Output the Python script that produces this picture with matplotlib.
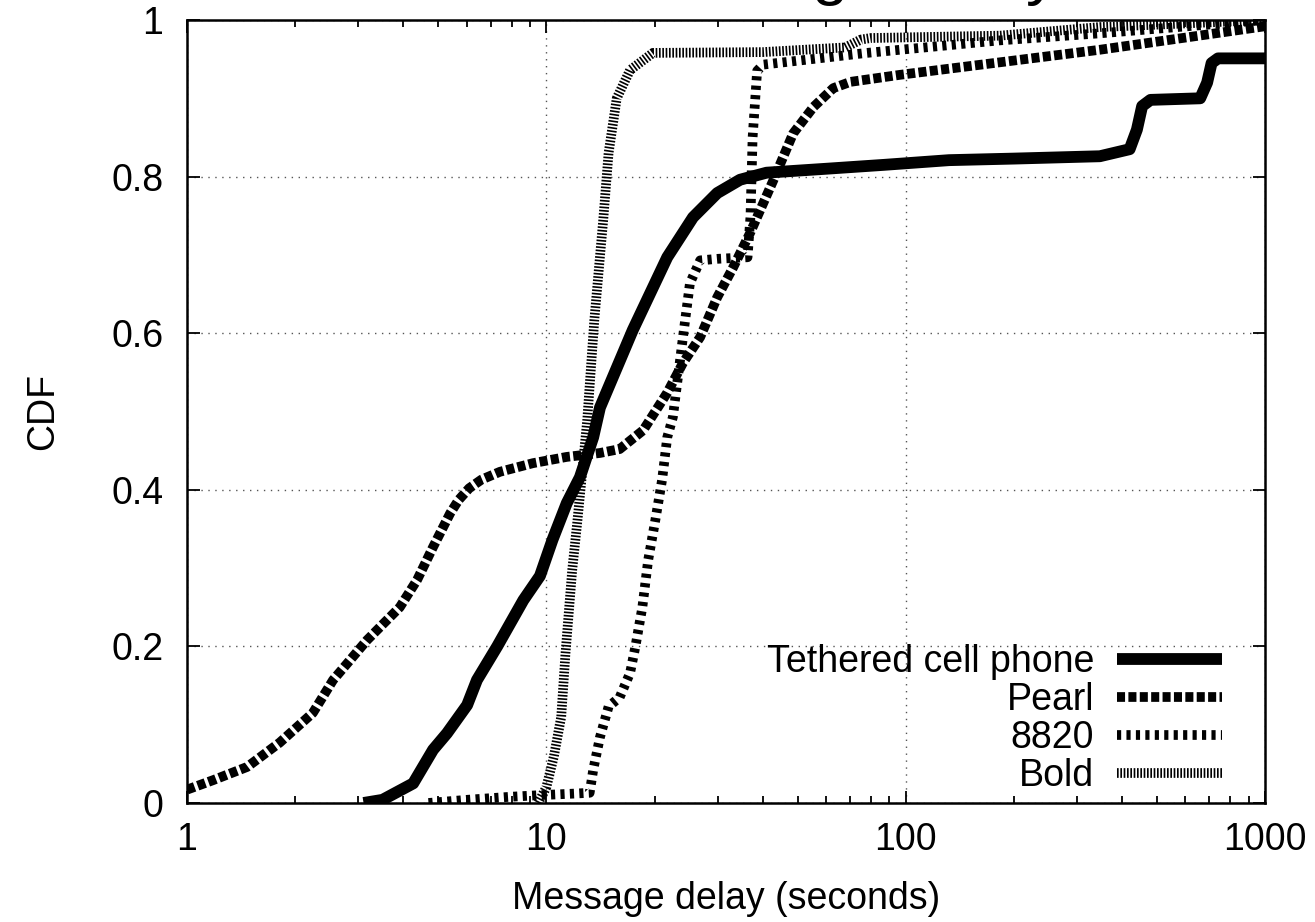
import matplotlib
matplotlib.use('Agg')
import matplotlib.pyplot as plt
from matplotlib.ticker import FuncFormatter, NullLocator, LogLocator

plt.rcParams['font.family'] = ['Liberation Sans', 'DejaVu Sans']
plt.rcParams['lines.scale_dashes'] = False

# Data
tethered_x = [3.1, 3.5, 4.26, 4.84, 5.29, 6.02, 6.41, 7.3, 8.63, 9.6, 10.4, 11.4, 12.4, 13.5, 14.1,
              17.4, 21.7, 25.6, 29.9, 34.6, 41, 60, 87, 132, 200, 347, 420, 440, 455, 480,
              660, 690, 710, 740, 1000]
tethered_y = [0, 0.004, 0.025, 0.068, 0.089, 0.125, 0.157, 0.2, 0.259, 0.29, 0.336, 0.383, 0.416, 0.467, 0.505,
              0.604, 0.697, 0.748, 0.779, 0.796, 0.805, 0.81, 0.815, 0.821, 0.823, 0.826, 0.835, 0.86, 0.89, 0.898,
              0.90, 0.92, 0.945, 0.951, 0.951]

pearl_x = [1.0, 1.18, 1.47, 1.81, 2.24, 2.55, 3.17, 3.91, 4.37, 4.84, 5.40, 5.7, 6.1, 6.6, 7.43, 9.18, 11.4, 14.1,
           16.0, 18.6, 21.7, 24.0, 26.8, 29.9, 33.1, 36.9, 42.8, 48.6, 55.4, 62.9, 70.2, 96.5, 183, 347, 1000]
pearl_y = [0.017, 0.029, 0.046, 0.077, 0.115, 0.157, 0.208, 0.25, 0.285, 0.327, 0.37, 0.387, 0.402, 0.413, 0.423, 0.434, 0.442, 0.447,
           0.452, 0.476, 0.524, 0.562, 0.595, 0.646, 0.684, 0.728, 0.795, 0.855, 0.889, 0.913, 0.921, 0.93, 0.946, 0.962, 0.992]

bb8820_x = [4.7, 6.0, 8.0, 9.6, 12.0, 13.2, 13.5, 14.1, 14.9, 16.0, 17.1, 17.7, 18.5, 19.2, 20.1, 21.0, 21.7,
            22.5, 24.0, 25.1, 26.8, 30, 36.3, 37.0, 37.5, 38.6, 40.1, 78, 183, 347, 1000]
bb8820_y = [0.0, 0.004, 0.008, 0.01, 0.012, 0.013, 0.042, 0.084, 0.123, 0.135, 0.166, 0.2, 0.25, 0.31, 0.361, 0.413, 0.467,
            0.493, 0.595, 0.664, 0.693, 0.695, 0.697, 0.75, 0.85, 0.935, 0.943, 0.958, 0.974, 0.983, 1.0]

bold_x = [9.5, 10.0, 10.5, 11.0, 11.3, 11.8, 12.2, 12.6, 13.0, 13.6, 14.4, 14.9, 15.7, 17.1, 19.8,
          40, 68, 75, 80, 183, 347, 1000]
bold_y = [0.0, 0.02, 0.06, 0.11, 0.19, 0.297, 0.36, 0.425, 0.49, 0.617, 0.745, 0.83, 0.90, 0.936, 0.958,
          0.959, 0.965, 0.975, 0.977, 0.98, 0.991, 1.0]

fig = plt.figure(figsize=(13.15, 9.22), dpi=100)
ax = fig.add_axes([0.1422, 0.1291, 0.8198, 0.8492])

ax.plot(tethered_x, tethered_y, color='k', lw=8.5, solid_capstyle='butt', solid_joinstyle='round',
        label='Tethered cell phone')
ax.plot(pearl_x, pearl_y, color='k', lw=7, dashes=(5.8, 2.4), dash_capstyle='butt', label='Pearl')
ax.plot(bb8820_x, bb8820_y, color='k', lw=7, dashes=(3.0, 3.8), dash_capstyle='butt', label='8820')
ax.plot(bold_x, bold_y, color='k', lw=7, dashes=(1.2, 1.2), dash_capstyle='butt', label='Bold')

ax.set_xscale('log')
ax.set_xlim(1, 1000)
ax.set_ylim(0, 1)
ax.set_yticks([0, 0.2, 0.4, 0.6, 0.8, 1])
ax.yaxis.set_major_formatter(FuncFormatter(lambda v, p: f'{v:g}'))
ax.xaxis.set_major_formatter(FuncFormatter(lambda v, p: f'{v:g}'))
ax.xaxis.set_minor_locator(LogLocator(base=10, subs=range(2, 10)))
ax.yaxis.set_minor_locator(NullLocator())

ax.tick_params(which='both', direction='in', top=True, right=True, labelsize=27, width=1.3)
ax.tick_params(which='major', length=9)
ax.tick_params(which='minor', length=5)
ax.tick_params(axis='x', which='major', pad=14)
ax.tick_params(axis='y', which='major', pad=17)
for s in ax.spines.values():
    s.set_linewidth(1.8)

ax.grid(True, which='major', color='#555555', linestyle=(0, (1, 4)), lw=1.0)

ax.set_xlabel('Message delay (seconds)', fontsize=27, labelpad=16)
ax.set_ylabel('CDF', fontsize=27, labelpad=36)

# title is cut off by the top edge, as in the source figure
fig.text(0.805, 1.008, 'Message delay', ha='right', va='baseline', fontsize=47)

ax.legend(loc='lower right', markerfirst=False, frameon=False, fontsize=27,
          handlelength=2.8, handletextpad=0.6, labelspacing=0.05,
          borderaxespad=0.3, bbox_to_anchor=(0.984, -0.022))

fig.savefig('out.png', dpi=100)
